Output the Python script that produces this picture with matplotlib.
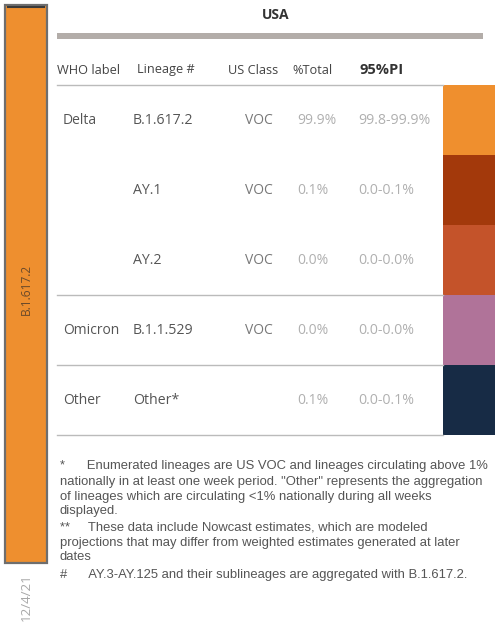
import matplotlib.pyplot as plt
from matplotlib.patches import Rectangle

# table data
who_labels = ["Delta", "", "", "Omicron", "Other"]
lineages = ["B.1.617.2", "AY.1", "AY.2", "B.1.1.529", "Other*"]
us_class = ["VOC", "VOC", "VOC", "VOC", ""]
pct_total = ["99.9%", "0.1%", "0.0%", "0.0%", "0.1%"]
pi_95 = ["99.8-99.9%", "0.0-0.1%", "0.0-0.0%", "0.0-0.0%", "0.0-0.1%"]
swatch_colors = ["#EF8F2E", "#A3390B", "#C4532A", "#B07399", "#172B45"]
group_breaks = [3, 4, 5]  # rows after which a rule is drawn

bar_label = "B.1.617.2"
bar_date = "12/4/21"
region = "USA"

footnotes = [
    "*      Enumerated lineages are US VOC and lineages circulating above 1%",
    "nationally in at least one week period. \"Other\" represents the aggregation",
    "of lineages which are circulating <1% nationally during all weeks",
    "displayed.",
    "**     These data include Nowcast estimates, which are modeled",
    "projections that may differ from weighted estimates generated at later",
    "dates",
    "#      AY.3-AY.125 and their sublineages are aggregated with B.1.617.2.",
]
foot_y = [466, 482, 497, 511, 528, 543, 557, 575]

plt.rcParams["font.family"] = ["Open Sans", "DejaVu Sans"]

fig = plt.figure(figsize=(5, 6.28), dpi=100)
ax = fig.add_axes([0, 0, 1, 1])
ax.set_xlim(0, 500)
ax.set_ylim(628, 0)
ax.axis("off")

# left stacked bar (single week, 100% B.1.617.2)
ax.add_patch(Rectangle((5, 5), 42, 558, facecolor="#EE8F2F", edgecolor="#6E6E6E", lw=1.6))
ax.plot([8, 44], [7, 7], color="#3A3A3A", lw=1.5)
ax.text(26, 289, bar_label, rotation=90, ha="center", va="center", fontsize=8.6, color="#6B4A2A")
ax.text(26, 597, bar_date, rotation=90, ha="center", va="center", fontsize=9.6, color="#A8A8A8")

# header
ax.text(276, 15, region, ha="center", va="center", fontsize=10, fontweight="bold", color="#333333")
ax.add_patch(Rectangle((57, 33), 426, 6, facecolor="#B3ADA9", edgecolor="none"))
hdr = [("WHO label", 57), ("Lineage #", 137), ("US Class", 228), ("%Total", 292)]
for t, x in hdr:
    ax.text(x, 70, t, ha="left", va="center", fontsize=9.2, color="#444444")
ax.text(360, 70, "95%PI", ha="left", va="center", fontsize=10.5, fontweight="bold", color="#333333")
ax.plot([57, 443], [85, 85], color="#BBBBBB", lw=1)

# rows
row_top, row_h = 85, 70
for i in range(len(lineages)):
    y0 = row_top + i * row_h
    ax.add_patch(Rectangle((443, y0), 52, row_h, facecolor=swatch_colors[i], edgecolor="none"))
    ty = y0 + 35
    ax.text(63, ty, who_labels[i], ha="left", va="center", fontsize=10, color="#555555")
    ax.text(133, ty, lineages[i], ha="left", va="center", fontsize=10.2, color="#555555")
    ax.text(245, ty, us_class[i], ha="left", va="center", fontsize=10, color="#777777")
    ax.text(297, ty, pct_total[i], ha="left", va="center", fontsize=10, color="#B0B0B0")
    ax.text(358, ty, pi_95[i], ha="left", va="center", fontsize=10.2, color="#B0B0B0")
for b in group_breaks:
    yb = row_top + b * row_h
    ax.plot([57, 443], [yb, yb], color="#BBBBBB", lw=1)

# footnotes
for line, y in zip(footnotes, foot_y):
    ax.text(60, y, line, ha="left", va="center", fontsize=9.4, color="#555555",
            family=["Liberation Sans", "DejaVu Sans"])

fig.savefig("out.png", dpi=100, facecolor="white")
